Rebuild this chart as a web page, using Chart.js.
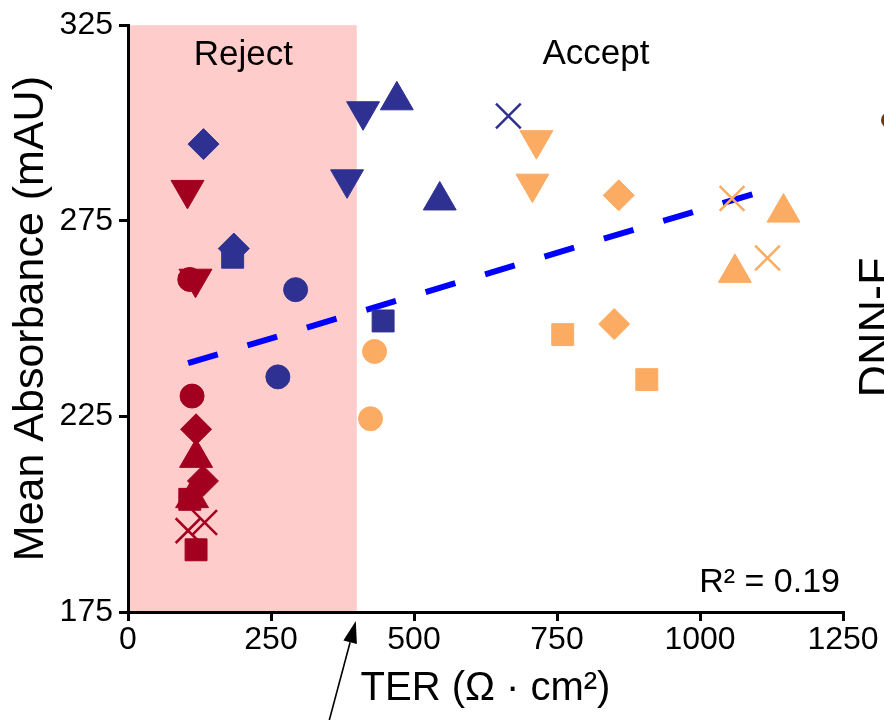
<!DOCTYPE html>
<html>
<head>
<meta charset="utf-8">
<script src="https://cdn.jsdelivr.net/npm/chart.js@4/dist/chart.umd.min.js"></script>
<style>
  html, body { margin: 0; padding: 0; background: #ffffff; }
  #wrap { width: 884px; height: 720px; position: relative; }
</style>
</head>
<body>
<div id="wrap"><canvas id="c" width="884" height="720"></canvas></div>
<script>
// ---- data ----
const markerTypes = ['circle', 'square', 'diamond', 'triangle-up', 'triangle-down', 'cross'];

// Reject group (dark red)
const redTER = [[108, 112], [108, 119], [119, 131], [119, 112], [104, 118], [105, 134]];
const redAbs = [[260, 230.2], [203.8, 190.9], [221.7, 208.5], [214.4, 204.1], [282.9, 260.2], [195.8, 197.9]];

// Navy group
const navyTER = [[293, 262], [183, 446], [132, 185], [470, 545], [411, 383], [665]];
const navyAbs = [[257.4, 235.1], [265.7, 249.4], [294.6, 267.9], [305.8, 280.2], [303, 285.6], [301.8]];

// Orange group
const orangeTER = [[431, 424], [760, 907], [858, 850], [1146, 1061], [714, 707], [1056, 1118]];
const orangeAbs = [[241.6, 224.4], [245.9, 234.4], [281.5, 248.6], [277.1, 261.7], [295.6, 284.5], [280.7, 265.5]];

// Linear fit (dashed)
const fitTER = [105, 1101];
const fitAbs = [238.6, 282.2];

const xTicks = [0, 250, 500, 750, 1000, 1250];
const yTicks = [175, 225, 275, 325];
const cutoffTER = 400;
const fitLabel = 'R\u00B2 = 0.19';
const regionLabels = ['Reject', 'Accept'];
const sideLabel = 'DNN-F';

// ---- styles ----
const FONT = "'Liberation Sans', Arial, Helvetica, sans-serif";
const groupColors = { red: '#A3001F', navy: '#2E3192', orange: '#FCAB62' };
const shapeStyle = {
  'circle':        { pointStyle: 'circle',   radius: 12,   rotation: 0 },
  'square':        { pointStyle: 'rect',     radius: 15.5, rotation: 0 },
  'diamond':       { pointStyle: 'rectRot',  radius: 15.5, rotation: 0 },
  'triangle-up':   { pointStyle: 'triangle', radius: 19,   rotation: 0 },
  'triangle-down': { pointStyle: 'triangle', radius: 19,   rotation: 180 },
  'cross':         { pointStyle: 'crossRot', radius: 17.5, rotation: 0 }
};

function buildGroup(name, terArr, absArr) {
  const color = groupColors[name];
  return markerTypes.map((m, i) => {
    const st = shapeStyle[m];
    const isCross = m === 'cross';
    return {
      label: name + ' ' + m,
      data: terArr[i].map((x, j) => ({ x: x, y: absArr[i][j] })),
      pointStyle: st.pointStyle,
      pointRadius: st.radius,
      rotation: st.rotation,
      backgroundColor: color,
      borderColor: color,
      borderWidth: isCross ? 2.5 : 1,
      showLine: false,
      order: 1
    };
  });
}

const datasets = [
  {
    type: 'line',
    label: 'fit',
    data: fitTER.map((x, i) => ({ x: x, y: fitAbs[i] })),
    borderColor: '#0000FF',
    borderWidth: 6,
    borderDash: [31, 31],
    borderCapStyle: 'butt',
    pointRadius: 0,
    fill: false,
    tension: 0,
    order: 10
  },
  ...buildGroup('red', redTER, redAbs),
  ...buildGroup('navy', navyTER, navyAbs),
  ...buildGroup('orange', orangeTER, orangeAbs)
];

const bandPlugin = {
  id: 'band',
  beforeDraw(chart) {
    const { ctx, chartArea, scales } = chart;
    const x0 = scales.x.getPixelForValue(0);
    const x1 = scales.x.getPixelForValue(cutoffTER);
    ctx.save();
    ctx.fillStyle = '#FFCCCC';
    ctx.fillRect(x0, chartArea.top, x1 - x0, chartArea.bottom - chartArea.top);
    ctx.restore();
  }
};

const annotPlugin = {
  id: 'annot',
  afterDraw(chart) {
    const { ctx, chartArea, scales } = chart;
    const xs = scales.x;
    ctx.save();
    ctx.fillStyle = '#000';
    // region labels
    ctx.font = '35px ' + FONT;
    ctx.textAlign = 'center';
    ctx.textBaseline = 'alphabetic';
    ctx.fillText(regionLabels[0], xs.getPixelForValue(cutoffTER / 2) + 1, chartArea.top + 40);
    ctx.fillText(regionLabels[1], (xs.getPixelForValue(cutoffTER) + chartArea.right) / 2 - 4, chartArea.top + 39);
    // R^2
    ctx.font = '34px ' + FONT;
    ctx.textAlign = 'right';
    ctx.fillText(fitLabel, chartArea.right - 3, chartArea.bottom - 20);
    // side label (rotated, partly cut off)
    ctx.save();
    ctx.translate(chart.width + 6, (chartArea.top + chartArea.bottom) / 2 + 9);
    ctx.rotate(-Math.PI / 2);
    ctx.font = '45px ' + FONT;
    ctx.textAlign = 'center';
    ctx.textBaseline = 'alphabetic';
    ctx.fillText(sideLabel, 0, 0);
    ctx.restore();
    // partial marker at the right edge
    ctx.beginPath();
    ctx.fillStyle = '#6B3A12';
    ctx.arc(chart.width + 5, chartArea.top + 95, 8, 0, Math.PI * 2);
    ctx.fill();
    // arrow pointing to the cut-off
    const tipX = xs.getPixelForValue(cutoffTER) - 1;
    const tipY = chartArea.bottom + 9;
    const tailX = tipX - 27, tailY = chart.height + 2;
    const ang = Math.atan2(tipY - tailY, tipX - tailX);
    const headLen = 22, headW = 7;
    const bx = tipX - Math.cos(ang) * headLen, by = tipY - Math.sin(ang) * headLen;
    ctx.strokeStyle = '#000';
    ctx.fillStyle = '#000';
    ctx.lineWidth = 1.6;
    ctx.beginPath();
    ctx.moveTo(tailX, tailY);
    ctx.lineTo(bx, by);
    ctx.stroke();
    ctx.beginPath();
    ctx.moveTo(tipX, tipY);
    ctx.lineTo(bx + Math.sin(ang) * headW, by - Math.cos(ang) * headW);
    ctx.lineTo(bx - Math.sin(ang) * headW, by + Math.cos(ang) * headW);
    ctx.closePath();
    ctx.fill();
    ctx.restore();
  }
};

new Chart(document.getElementById('c'), {
  type: 'scatter',
  data: { datasets: datasets },
  plugins: [bandPlugin, annotPlugin],
  options: {
    responsive: false,
    animation: false,
    events: [],
    layout: { padding: { left: 0, top: 20, right: 41, bottom: 0 } },
    plugins: { legend: { display: false }, tooltip: { enabled: false } },
    scales: {
      x: {
        type: 'linear',
        min: xTicks[0],
        max: xTicks[xTicks.length - 1],
        afterBuildTicks: (s) => { s.ticks = xTicks.map(v => ({ value: v })); },
        afterFit: (s) => { s.height = 108; },
        ticks: { color: '#000', font: { family: FONT, size: 32 }, padding: 0, maxRotation: 0,
                 callback: (v) => String(v) },
        grid: { drawOnChartArea: false, color: '#000', lineWidth: 3, tickLength: 9 },
        border: { color: '#000', width: 3 },
        title: {
          display: true,
          text: 'TER (\u03A9 \u00B7 cm\u00B2)',
          color: '#000',
          font: { family: FONT, size: 40 },
          padding: { top: 0, bottom: 7 }
        }
      },
      y: {
        type: 'linear',
        min: yTicks[0],
        max: yTicks[yTicks.length - 1],
        afterBuildTicks: (s) => { s.ticks = yTicks.map(v => ({ value: v })); },
        afterFit: (s) => { s.width = 128; },
        ticks: { color: '#000', font: { family: FONT, size: 32 }, padding: 6,
                 callback: (v) => String(v) },
        grid: { drawOnChartArea: false, color: '#000', lineWidth: 3, tickLength: 9 },
        border: { color: '#000', width: 3 },
        title: {
          display: true,
          text: 'Mean Absorbance (mAU)',
          color: '#000',
          font: { family: FONT, size: 43 },
          padding: { top: 5, bottom: 0 }
        }
      }
    }
  }
});
</script>
</body>
</html>
